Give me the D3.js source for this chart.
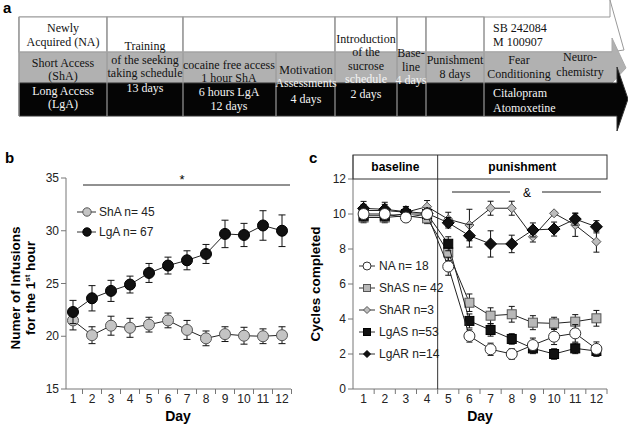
<!DOCTYPE html>
<html>
<head>
<meta charset="utf-8">
<script src="https://cdn.jsdelivr.net/npm/d3@7/dist/d3.min.js"></script>
<style>
  body { margin: 0; background: #fff; }
  svg { display: block; }
  .serif { font-family: "Liberation Serif", "Times New Roman", serif; font-size: 12px; }
  .sans { font-family: "Liberation Sans", Arial, sans-serif; }
</style>
</head>
<body>
<div id="chart"></div>
<script>
// ---- data ----
const days = [1, 2, 3, 4, 5, 6, 7, 8, 9, 10, 11, 12];

// panel b: infusions in the 1st hour (mean, sem)
const shaMean = [21.5, 20.1, 21.0, 20.8, 21.1, 21.5, 20.6, 19.8, 20.2, 20.05, 20.0, 20.1];
const shaErr  = [0.9, 0.8, 0.9, 0.9, 0.7, 0.7, 0.9, 0.7, 0.7, 0.8, 0.7, 0.8];
const lgaMean = [22.3, 23.6, 24.3, 24.9, 26.0, 26.7, 27.2, 27.8, 29.7, 29.6, 30.5, 30.0];
const lgaErr  = [1.1, 1.2, 1.0, 0.8, 0.9, 0.8, 0.9, 0.9, 1.3, 1.1, 1.4, 1.5];

// panel c: cycles completed (mean, sem)
const naMean   = [10.0, 10.0, 9.8, 10.0, 7.0, 3.03, 2.27, 2.0, 2.51, 2.99, 3.18, 2.29];
const naErr    = [0.3, 0.3, 0.25, 0.3, 0.5, 0.35, 0.35, 0.3, 0.4, 0.45, 0.5, 0.4];
const shasMean = [9.8, 9.8, 9.9, 9.75, 7.8, 4.93, 4.19, 4.27, 3.79, 3.75, 3.85, 4.04];
const shasErr  = [0.3, 0.3, 0.25, 0.3, 0.45, 0.5, 0.45, 0.45, 0.4, 0.35, 0.4, 0.45];
const sharMean = [10.2, 10.2, 10.1, 10.42, 9.7, 9.37, 10.33, 10.33, 8.7, 10.04, 9.37, 8.42];
const sharErr  = [0.35, 0.35, 0.3, 0.35, 0.4, 0.9, 0.4, 0.4, 0.3, 0.1, 0.65, 0.6];
const lgasMean = [9.9, 9.9, 10.0, 10.0, 8.3, 3.89, 3.37, 2.86, 2.32, 2.0, 2.32, 2.17];
const lgasErr  = [0.3, 0.3, 0.3, 0.3, 0.4, 0.4, 0.35, 0.3, 0.3, 0.3, 0.3, 0.3];
const lgarMean = [10.32, 10.27, 10.13, 10.04, 9.5, 8.76, 8.29, 8.29, 9.09, 9.14, 9.71, 9.27];
const lgarErr  = [0.4, 0.4, 0.3, 0.3, 0.3, 0.65, 0.75, 0.5, 0.4, 0.4, 0.35, 0.35];

const bTicks = [15, 20, 25, 30, 35];
const cTicks = [0, 2, 4, 6, 8, 10, 12];
const baselineDays = [1, 2, 3, 4];
const punishDays = [5, 6, 7, 8, 9, 10, 11, 12];

// panel a: timeline columns and their text lines
const colEdges = [19, 107, 183, 276, 335, 397, 426, 484];
const whiteCells = [[19, 107], [107, 183], [183, 335], [335, 397], [397, 426], [426, 484]];
const timelineTexts = [
  // [x, y, text, colour, anchor]
  [63, 32, 'Newly', 'k', 'middle'], [63, 46, 'Acquired (NA)', 'k', 'middle'],
  [63, 67, 'Short Access', 'k', 'middle'], [63, 80, '(ShA)', 'k', 'middle'],
  [63, 95, 'Long Access', 'w', 'middle'], [63, 108, '(LgA)', 'w', 'middle'],
  [145, 50, 'Training', 'k', 'middle'], [145, 64, 'of the seeking', 'k', 'middle'],
  [145, 77, 'taking schedule', 'k', 'middle'], [145, 92, '13 days', 'w', 'middle'],
  [229, 69, 'cocaine free access', 'k', 'middle'], [229, 82, '1 hour ShA', 'k', 'middle'],
  [229, 96, '6 hours LgA', 'w', 'middle'], [229, 110, '12 days', 'w', 'middle'],
  [306, 74, 'Motivation', 'k', 'middle'], [306, 87, 'Assessments', 'w', 'middle'],
  [306, 103, '4 days', 'w', 'middle'],
  [366, 43, 'Introduction', 'k', 'middle'], [366, 56, 'of the', 'k', 'middle'],
  [366, 70, 'sucrose', 'k', 'middle'], [366, 83, 'schedule', 'w', 'middle'],
  [366, 98, '2 days', 'w', 'middle'],
  [411, 57, 'Base-', 'k', 'middle'], [411, 71, 'line', 'k', 'middle'],
  [411, 84, '4 days', 'w', 'middle'],
  [455, 64, 'Punishment', 'k', 'middle'], [455, 78, '8 days', 'k', 'middle'],
  [493, 32, 'SB 242084', 'k', 'start'], [493, 46, 'M 100907', 'k', 'start'],
  [519, 64, 'Fear', 'k', 'middle'], [519, 78, 'Conditioning', 'k', 'middle'],
  [580, 61, 'Neuro-', 'k', 'middle'], [580, 76, 'chemistry', 'k', 'middle'],
  [493, 97, 'Citalopram', 'w', 'start'], [493, 112, 'Atomoxetine', 'w', 'start'],
];

const W = 628, H = 426;
const svg = d3.select('#chart').append('svg').attr('width', W).attr('height', H);

// ---------------- panel a ----------------
const GRAY = '#b1b1b1';
const a = svg.append('g');
a.append('text').attr('class', 'sans').attr('x', 3).attr('y', 13)
  .attr('font-size', 15).attr('font-weight', 'bold').text('a');

// three stacked arrows (white / gray / black rows)
const arrowPts = {
  white: [[19, 17], [610, 17], [610, 0], [624, 50], [610, 52], [19, 52]],
  gray: [[19, 52], [612, 52], [612, 38], [626, 68], [612, 83], [19, 83]],
  black: [[19, 83], [617, 83], [617, 67], [628, 99], [617, 131], [617, 116], [19, 116]],
};
a.append('polygon').attr('points', arrowPts.white.join(' ')).attr('fill', '#fff').attr('stroke', '#999');
a.append('polygon').attr('points', arrowPts.gray.join(' ')).attr('fill', GRAY).attr('stroke', '#aaa');
a.append('polygon').attr('points', arrowPts.black.join(' ')).attr('fill', '#050505').attr('stroke', '#333');

whiteCells.forEach(([x0, x1]) => {
  a.append('rect').attr('x', x0).attr('y', 17).attr('width', x1 - x0).attr('height', 35)
    .attr('fill', '#fff').attr('stroke', '#999');
});
colEdges.forEach((x) => {
  a.append('line').attr('x1', x).attr('x2', x).attr('y1', x === 276 ? 52 : 17).attr('y2', 116)
    .attr('stroke', '#999').attr('stroke-width', 1.2);
});
a.append('line').attr('x1', 19).attr('x2', 612).attr('y1', 52).attr('y2', 52).attr('stroke', '#aaa');

a.selectAll('text.tl').data(timelineTexts).join('text')
  .attr('class', 'tl serif')
  .attr('x', (d) => d[0]).attr('y', (d) => d[1])
  .attr('text-anchor', (d) => d[4])
  .attr('fill', (d) => (d[3] === 'w' ? '#f4f4f4' : '#111'))
  .text((d) => d[2]);

// ---------------- shared helpers ----------------
function drawErrorBars(g, x, y, means, errs, cap) {
  days.forEach((d, i) => {
    const cx = x(d) + x.bandwidth() / 2;
    const top = y(means[i] + errs[i]), bot = y(means[i] - errs[i]);
    g.append('line').attr('x1', cx).attr('x2', cx).attr('y1', top).attr('y2', bot).attr('stroke', '#111').attr('stroke-width', 1);
    [top, bot].forEach((yy) => g.append('line').attr('x1', cx - cap).attr('x2', cx + cap).attr('y1', yy).attr('y2', yy).attr('stroke', '#111').attr('stroke-width', 1));
  });
}
function drawLine(g, x, y, means) {
  const line = d3.line().x((d, i) => x(days[i]) + x.bandwidth() / 2).y((d) => y(d));
  g.append('path').attr('d', line(means)).attr('fill', 'none').attr('stroke', '#222').attr('stroke-width', 1);
}
function marker(g, shape, cx, cy, size, fill, stroke) {
  if (shape === 'circle') {
    g.append('circle').attr('cx', cx).attr('cy', cy).attr('r', size).attr('fill', fill).attr('stroke', stroke).attr('stroke-width', 1);
  } else if (shape === 'square') {
    g.append('rect').attr('x', cx - size).attr('y', cy - size).attr('width', 2 * size).attr('height', 2 * size)
      .attr('fill', fill).attr('stroke', stroke).attr('stroke-width', 1);
  } else {
    g.append('polygon').attr('points', [[cx, cy - size], [cx + size, cy], [cx, cy + size], [cx - size, cy]].join(' '))
      .attr('fill', fill).attr('stroke', stroke).attr('stroke-width', 1);
  }
}
function drawSeries(g, x, y, s) {
  drawLine(g, x, y, s.mean);
  drawErrorBars(g, x, y, s.mean, s.err, s.cap);
  s.mean.forEach((v, i) => marker(g, s.shape, x(days[i]) + x.bandwidth() / 2, y(v), s.size, s.fill, s.stroke));
}
// day axis: ticks at category boundaries, labels centred in each category
function categoryAxis(g, x, y0, x0, x1) {
  g.append('line').attr('x1', x0).attr('x2', x1).attr('y1', y0).attr('y2', y0).attr('stroke', '#777');
  days.forEach((d) => {
    const xb = x(d) + x.step();
    g.append('line').attr('x1', xb).attr('x2', xb).attr('y1', y0).attr('y2', y0 + 5).attr('stroke', '#777');
    g.append('text').attr('class', 'sans').attr('font-size', 12).attr('fill', '#222')
      .attr('x', x(d) + x.bandwidth() / 2).attr('y', y0 + 14).attr('text-anchor', 'middle').text(d);
  });
}
function valueAxis(g, y, ticks, x0, yTop) {
  g.append('line').attr('x1', x0).attr('x2', x0).attr('y1', y(ticks[0])).attr('y2', yTop).attr('stroke', '#777');
  ticks.forEach((t) => {
    g.append('line').attr('x1', x0 - 5).attr('x2', x0).attr('y1', y(t)).attr('y2', y(t)).attr('stroke', '#777');
    g.append('text').attr('class', 'sans').attr('font-size', 12).attr('fill', '#222')
      .attr('x', x0 - 7).attr('y', y(t) + 4).attr('text-anchor', 'end').text(t);
  });
}

// ---------------- panel b ----------------
const b = svg.append('g');
const xB = d3.scaleBand().domain(days).range([63.5, 291.5]);
const yB = d3.scaleLinear().domain([15, 35]).range([389, 178]);
b.append('text').attr('class', 'sans').attr('x', 5).attr('y', 163).attr('font-size', 15).attr('font-weight', 'bold').text('b');
valueAxis(b, yB, bTicks, 66, yB(35));
categoryAxis(b, xB, 389, 66, 291);

b.append('line').attr('x1', 83).attr('x2', 290).attr('y1', 185).attr('y2', 185).attr('stroke', '#222');
b.append('text').attr('class', 'sans').attr('x', 182).attr('y', 184).attr('font-size', 13).attr('text-anchor', 'middle').text('*');

drawSeries(b, xB, yB, { mean: shaMean, err: shaErr, cap: 3.5, shape: 'circle', size: 5.5, fill: '#c4c4c4', stroke: '#555' });
drawSeries(b, xB, yB, { mean: lgaMean, err: lgaErr, cap: 3.5, shape: 'circle', size: 5.5, fill: '#111', stroke: '#000' });

const legB = [['ShA n= 45', '#c4c4c4', '#555', 212], ['LgA n= 67', '#111', '#000', 232]];
legB.forEach(([lab, fill, stroke, ly]) => {
  b.append('line').attr('x1', 77).attr('x2', 96).attr('y1', ly).attr('y2', ly).attr('stroke', '#333');
  marker(b, 'circle', 87, ly, 4.2, fill, stroke);
  b.append('text').attr('class', 'sans').attr('x', 99).attr('y', ly + 4).attr('font-size', 12).attr('fill', '#222').text(lab);
});

b.append('text').attr('class', 'sans').attr('font-size', 13.5).attr('font-weight', 'bold')
  .attr('transform', 'translate(20,288) rotate(-90)').attr('text-anchor', 'middle').text('Numer of Infusions');
const yl2 = b.append('text').attr('class', 'sans').attr('font-size', 13.5).attr('font-weight', 'bold')
  .attr('transform', 'translate(35,288) rotate(-90)').attr('text-anchor', 'middle');
yl2.append('tspan').text('for the 1');
yl2.append('tspan').attr('font-size', 8).attr('dy', -5).text('st');
yl2.append('tspan').attr('dy', 5).text(' hour');
b.append('text').attr('class', 'sans').attr('x', 178).attr('y', 421).attr('font-size', 14).attr('font-weight', 'bold')
  .attr('text-anchor', 'middle').text('Day');

// ---------------- panel c ----------------
const c = svg.append('g');
const xC = d3.scaleBand().domain(days).range([353, 607]);
const yC = d3.scaleLinear().domain([0, 12]).range([389, 179]);
c.append('text').attr('class', 'sans').attr('x', 309).attr('y', 163).attr('font-size', 15).attr('font-weight', 'bold').text('c');
valueAxis(c, yC, cTicks, 353, 155);
categoryAxis(c, xC, 389, 353, 607);

// header box: baseline | punishment
const divX = xC(punishDays[0]);
c.append('rect').attr('x', 353).attr('y', 155).attr('width', xC(12) + xC.step() - 353).attr('height', 24)
  .attr('fill', 'none').attr('stroke', '#333');
c.append('line').attr('x1', divX).attr('x2', divX).attr('y1', 155).attr('y2', 389).attr('stroke', '#333');
c.append('text').attr('class', 'sans').attr('font-size', 12).attr('font-weight', 'bold').attr('text-anchor', 'middle')
  .attr('x', (353 + divX) / 2).attr('y', 171).text('baseline');
c.append('text').attr('class', 'sans').attr('font-size', 12).attr('font-weight', 'bold').attr('text-anchor', 'middle')
  .attr('x', (divX + 607) / 2).attr('y', 171).text('punishment');

c.append('line').attr('x1', 452).attr('x2', 510).attr('y1', 192).attr('y2', 192).attr('stroke', '#222');
c.append('line').attr('x1', 542).attr('x2', 601).attr('y1', 192).attr('y2', 192).attr('stroke', '#222');
c.append('text').attr('class', 'sans').attr('x', 527).attr('y', 197).attr('font-size', 12).attr('text-anchor', 'middle').text('&');

const seriesC = [
  { name: 'ShAS n= 42', mean: shasMean, err: shasErr, shape: 'square', size: 4.5, fill: '#b8b8b8', stroke: '#555' },
  { name: 'ShAR n=3', mean: sharMean, err: sharErr, shape: 'diamond', size: 4.5, fill: '#bdbdbd', stroke: '#555' },
  { name: 'LgAS n=53', mean: lgasMean, err: lgasErr, shape: 'square', size: 4.5, fill: '#111', stroke: '#000' },
  { name: 'LgAR n=14', mean: lgarMean, err: lgarErr, shape: 'diamond', size: 6, fill: '#111', stroke: '#000' },
  { name: 'NA n= 18', mean: naMean, err: naErr, shape: 'circle', size: 5.5, fill: '#fff', stroke: '#333' },
];
seriesC.forEach((s) => drawSeries(c, xC, yC, Object.assign({ cap: 3 }, s)));

const legendOrder = ['NA n= 18', 'ShAS n= 42', 'ShAR n=3', 'LgAS n=53', 'LgAR n=14'];
legendOrder.forEach((nm, i) => {
  const s = seriesC.find((q) => q.name === nm);
  const ly = 266 + i * 22;
  c.append('line').attr('x1', 359).attr('x2', 375).attr('y1', ly).attr('y2', ly).attr('stroke', '#333');
  marker(c, s.shape, 367, ly, s.shape === 'circle' ? 4 : 3.5, s.fill, s.stroke);
  c.append('text').attr('class', 'sans').attr('x', 379).attr('y', ly + 4).attr('font-size', 12).attr('fill', '#222').text(nm);
});

c.append('text').attr('class', 'sans').attr('font-size', 13.5).attr('font-weight', 'bold')
  .attr('transform', 'translate(320,284) rotate(-90)').attr('text-anchor', 'middle').text('Cycles completed');
c.append('text').attr('class', 'sans').attr('x', 480).attr('y', 421).attr('font-size', 14).attr('font-weight', 'bold')
  .attr('text-anchor', 'middle').text('Day');
</script>
</body>
</html>
